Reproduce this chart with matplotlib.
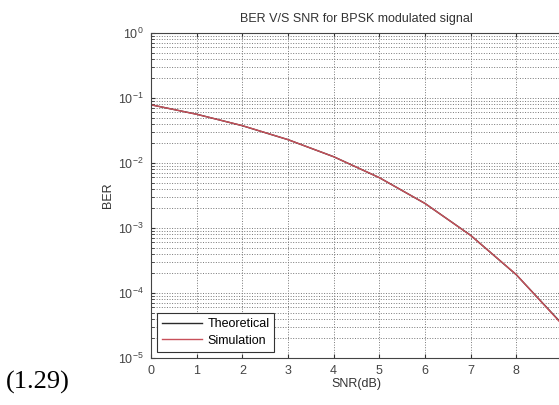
import matplotlib.pyplot as plt
from matplotlib.ticker import LogLocator, NullFormatter

plt.rcParams['font.family'] = ['Liberation Sans', 'DejaVu Sans']

# SNR in dB and bit error rates
snr_db = [0, 1, 2, 3, 4, 5, 6, 7, 8, 9]
ber_theory = [7.865e-2, 5.628e-2, 3.751e-2, 2.288e-2, 1.250e-2,
              5.954e-3, 2.388e-3, 7.727e-4, 1.909e-4, 3.363e-5]
ber_sim = [7.87e-2, 5.62e-2, 3.76e-2, 2.29e-2, 1.25e-2,
           5.96e-3, 2.39e-3, 7.70e-4, 1.92e-4, 3.30e-5]
x_labels = ['0', '1', '2', '3', '4', '5', '6', '7', '8', '']

fig = plt.figure(figsize=(5.59, 4.05), dpi=100)
ax = fig.add_axes([0.2701, 0.1160, 0.7352, 0.8025])

ax.semilogy(snr_db, ber_theory, color='#2a2a2a', lw=1.0, label='Theoretical')
ax.semilogy(snr_db, ber_sim, color='#c8505a', lw=1.0, label='Simulation')

ax.set_xlim(0, 9)
ax.set_ylim(1e-5, 1)
ax.set_xticks(snr_db)
ax.set_xticklabels(x_labels)
ax.yaxis.set_major_locator(LogLocator(base=10, numticks=10))
ax.yaxis.set_minor_locator(LogLocator(base=10, subs=range(2, 10), numticks=20))
ax.yaxis.set_minor_formatter(NullFormatter())

ax.grid(True, which='major', ls=':', color='#777777', lw=0.7)
ax.grid(True, which='minor', axis='y', ls=':', color='#777777', lw=0.7)

ax.tick_params(which='both', direction='in', top=True, right=True,
               labelsize=9, colors='#333333', labelcolor='#444444')
ax.tick_params(which='major', length=3, pad=5)
ax.tick_params(which='minor', length=2)
for s in ax.spines.values():
    s.set_color('#444444')
    s.set_linewidth(0.8)

ax.set_title('BER V/S SNR for BPSK modulated signal', fontsize=9,
             color='#333333', pad=8)
ax.set_xlabel('SNR(dB)', fontsize=9, color='#333333', labelpad=1)
ax.set_ylabel('BER', fontsize=9, color='#333333', labelpad=3)

leg = ax.legend(loc='lower left', fontsize=9, fancybox=False,
                framealpha=1, edgecolor='#333333', handlelength=3.2,
                borderaxespad=0.5, handletextpad=0.4, labelspacing=0.35)
leg.get_frame().set_linewidth(0.8)

fig.text(0.01, 0.04, '(1.29)', fontsize=19, family='Liberation Serif')

fig.savefig('out.png', dpi=100)
